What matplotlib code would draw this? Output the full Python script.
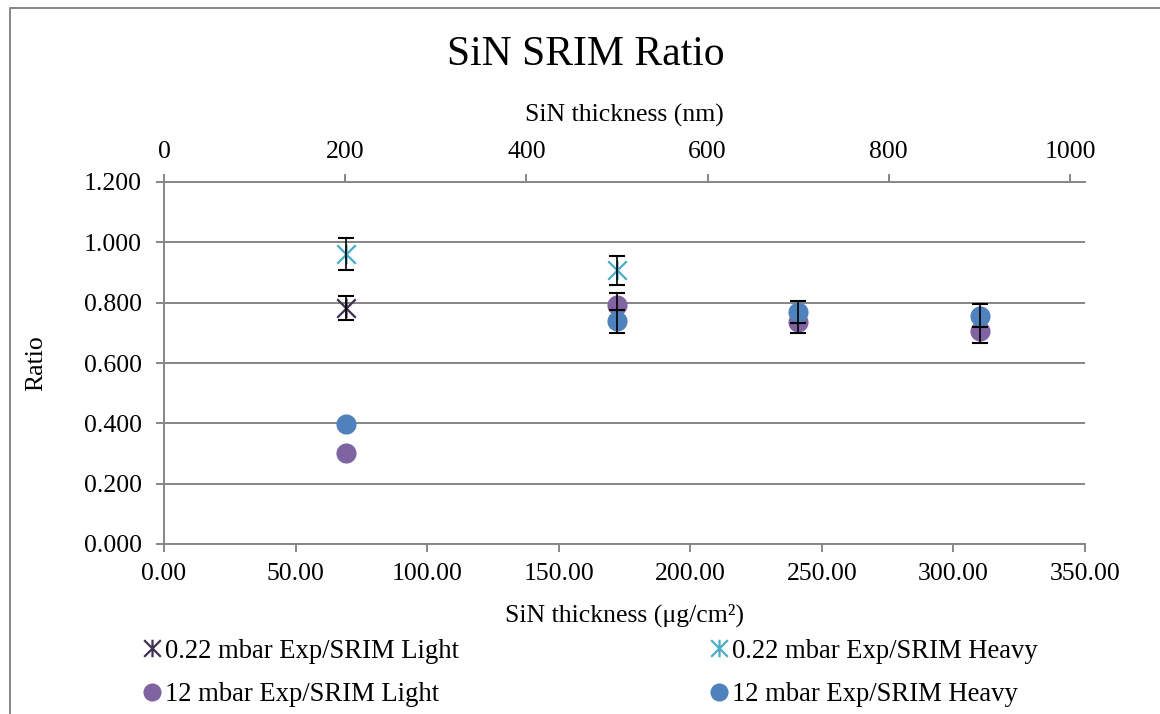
import numpy as np
import matplotlib
matplotlib.use("Agg")
import matplotlib.pyplot as plt
from matplotlib.path import Path
from matplotlib.lines import Line2D

# SiN foil areal density (µg/cm²) for the 200, 500, 700 and 900 nm foils
thickness_ugcm2 = [69.0, 172.0, 241.0, 310.0]

# Exp/SRIM ratios and their uncertainties (NaN = not measured / no bar)
light_022 = [0.782, np.nan, np.nan, np.nan]
light_022_err = [0.040, np.nan, np.nan, np.nan]
heavy_022 = [0.961, 0.907, np.nan, np.nan]
heavy_022_err = [0.054, 0.049, np.nan, np.nan]
light_12 = [0.302, 0.792, 0.735, 0.706]
light_12_err = [np.nan, 0.039, 0.037, 0.039]
heavy_12 = [0.398, 0.738, 0.769, 0.757]
heavy_12_err = [np.nan, 0.039, 0.038, 0.038]

series_labels = ["0.22 mbar Exp/SRIM Light", "0.22 mbar Exp/SRIM Heavy",
                 "12 mbar Exp/SRIM Light", "12 mbar Exp/SRIM Heavy"]

bottom_ticks = [0, 50, 100, 150, 200, 250, 300, 350]
top_ticks = [0, 200, 400, 600, 800, 1000]
y_ticks = [0.0, 0.2, 0.4, 0.6, 0.8, 1.0, 1.2]

plt.rcParams["font.family"] = ["Liberation Serif", "DejaVu Serif"]
FS = 18.5
GRAY = "#868686"

# asterisk marker: an X crossed by a vertical bar
star = Path([(-1, -1), (1, 1), (-1, 1), (1, -1), (0, -1.05), (0, 1.05)],
            [Path.MOVETO, Path.LINETO, Path.MOVETO, Path.LINETO,
             Path.MOVETO, Path.LINETO])

fig = plt.figure(figsize=(11.6, 7.14), dpi=100)
W, H = 1160, 714
L, R, B, T = 164, 1085, 544, 182
ax = fig.add_axes([L / W, 1 - B / H, (R - L) / W, (B - T) / H])

x = np.array(thickness_ugcm2)
styles = [
    (light_022, light_022_err, "#3F3151", star, 14.0),
    (heavy_022, heavy_022_err, "#4BACC6", star, 14.0),
    (light_12, light_12_err, "#8064A2", "o", 14.5),
    (heavy_12, heavy_12_err, "#4F81BD", "o", 14.5),
]
handles = []
for i, (vals, errs, col, mk, ms) in enumerate(styles):
    v = np.array(vals)
    e = np.array(errs)
    if mk == "o":
        h, = ax.plot(x, v, ls="none", marker="o", ms=ms, mfc=col, mec=col,
                     mew=0, zorder=3 + 2 * i)
    else:
        h, = ax.plot(x, v, ls="none", marker=mk, ms=ms, mfc="none", mec=col,
                     mew=1.6, zorder=3 + 2 * i)
    handles.append(h)
    ok = np.isfinite(e) & np.isfinite(v)
    ax.errorbar(x[ok], v[ok], yerr=e[ok], fmt="none", ecolor="black",
                elinewidth=1.2, capsize=6, capthick=1.5, zorder=4 + 2 * i)

ax.set_xlim(0, 350)
ax.set_ylim(0, 1.2)
ax.set_xticks(bottom_ticks)
ax.set_xticklabels([f"{t:.2f}" for t in bottom_ticks])
ax.set_yticks(y_ticks)
ax.set_yticklabels([f"{t:.3f}" for t in y_ticks])
ax.yaxis.grid(True, color=GRAY, lw=1.4)
ax.set_axisbelow(True)
for s in ["right", "top"]:
    ax.spines[s].set_visible(False)
for s in ["left", "bottom"]:
    ax.spines[s].set_color(GRAY)
    ax.spines[s].set_linewidth(1.4)
ax.tick_params(axis="both", direction="out", color=GRAY, width=1.4,
               length=6, labelsize=FS, pad=8)
ax.tick_params(axis="y", pad=10)

ax.set_xlabel("SiN thickness (μg/cm²)", fontsize=FS)
ax.xaxis.set_label_coords(0.5, (B - 615) / (B - T), transform=ax.transAxes)
ax.xaxis.label.set_va("center")
ax.set_ylabel("Ratio", fontsize=FS)
ax.yaxis.set_label_coords((36 - L) / (R - L), 0.5)
ax.yaxis.label.set_va("center")

# secondary x axis in nm
ax2 = ax.twiny()
ax2.set_xlim(0, 1000 * (R - L) / 906)
ax2.set_xticks(top_ticks)
ax2.set_xticklabels([str(t) for t in top_ticks])
for s in ["right", "left", "bottom"]:
    ax2.spines[s].set_visible(False)
ax2.spines["top"].set_color(GRAY)
ax2.spines["top"].set_linewidth(1.4)
ax2.tick_params(axis="x", direction="out", color=GRAY, width=1.4,
                length=6, labelsize=FS, pad=8)
ax2.set_xlabel("SiN thickness (nm)", fontsize=FS)
ax2.xaxis.set_label_coords(0.5, (B - 115) / (B - T), transform=ax.transAxes)
ax2.xaxis.label.set_va("center")

fig.text(586 / W, 1 - 55 / H, "SiN SRIM Ratio", fontsize=30,
         ha="center", va="center")

# legend: two columns, two rows
leg_kw = dict(loc="center left", frameon=False, fontsize=19.2, handlelength=0.6,
              handletextpad=0.18, borderpad=0, borderaxespad=0, labelspacing=0.7,
              markerscale=0.9)
fig.legend([handles[0], handles[2]], [series_labels[0], series_labels[2]],
           bbox_to_anchor=(144 / W, 1 - 673 / H), **leg_kw)
fig.legend([handles[1], handles[3]], [series_labels[1], series_labels[3]],
           bbox_to_anchor=(711 / W, 1 - 673 / H), **leg_kw)

# chart area border
fig.add_artist(Line2D([9.5 / W, 9.5 / W, 1.0], [0.0, 1 - 7.5 / H, 1 - 7.5 / H],
                      transform=fig.transFigure, color=GRAY, lw=1.4))

fig.savefig("out.png", dpi=100)
